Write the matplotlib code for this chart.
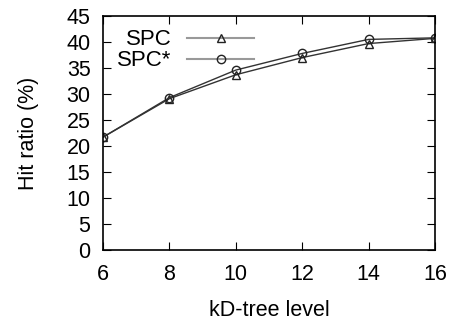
import matplotlib.pyplot as plt

plt.rcParams['font.family'] = ['Liberation Sans', 'DejaVu Sans']

# kD-tree level vs hit ratio
levels = [6, 8, 10, 12, 14, 16]
spc = [21.7, 29.1, 33.7, 37.0, 39.7, 40.7]
spc_star = [21.7, 29.3, 34.6, 37.8, 40.5, 40.8]

fig = plt.figure(figsize=(4.51, 3.23), dpi=100)
ax = fig.add_axes([103 / 451, 1 - 250 / 323, 332 / 451, 234 / 323])

ax.plot(levels, spc, color='#333333', lw=1.0, marker='^', ms=6,
        mfc='none', mec='#222222', mew=1.0, label='SPC')
ax.plot(levels, spc_star, color='#333333', lw=1.0, marker='o', ms=6,
        mfc='none', mec='#222222', mew=1.0, label='SPC*')

ax.set_xlim(6, 16)
ax.set_ylim(0, 45)
ax.set_xticks(levels)
ax.set_yticks(range(0, 46, 5))
ax.tick_params(direction='in', top=True, right=True, length=6, labelsize=15.5)
ax.tick_params(axis='x', pad=10)
ax.tick_params(axis='y', pad=9)
for s in ax.spines.values():
    s.set_linewidth(1.2)

ax.set_xlabel('kD-tree level', fontsize=15.5, labelpad=11)
ax.set_ylabel('Hit ratio (%)', fontsize=15.5, labelpad=20)

leg = ax.legend(loc='upper left', bbox_to_anchor=(0.01, 0.99), frameon=False,
                markerfirst=False, fontsize=16, handlelength=3.0,
                handletextpad=0.7, labelspacing=0.0, borderaxespad=0.1)
for line in leg.get_lines():
    line.set_color('#999999')
    line.set_linewidth(1.5)

fig.savefig('out.png', dpi=100)
